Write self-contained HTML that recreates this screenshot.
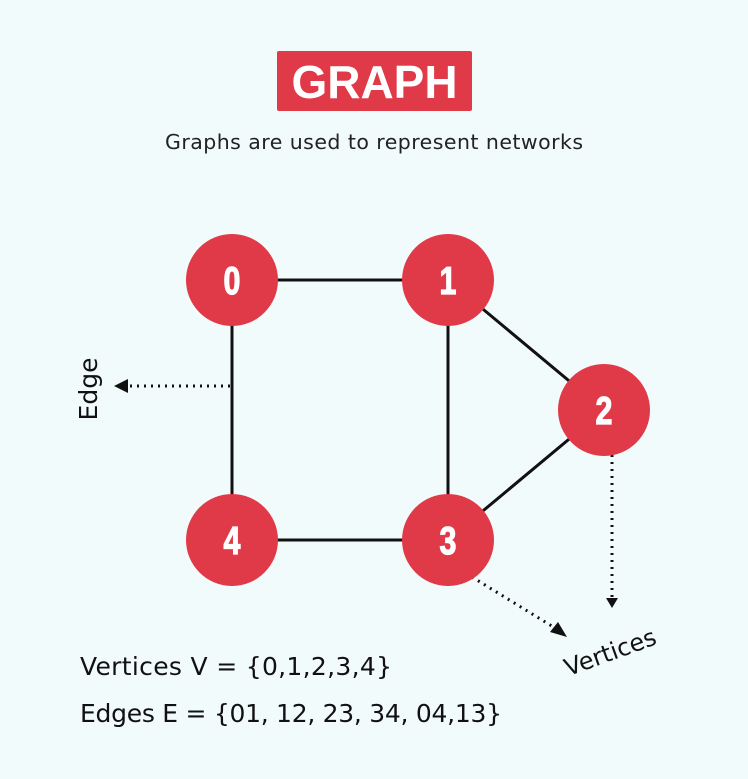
<!DOCTYPE html>
<html><head><style>
body{margin:0;background:#f2fbfc;}
svg{display:block}
</style></head><body>
<svg width="748" height="779" viewBox="0 0 748 779" xmlns="http://www.w3.org/2000/svg">
<rect width="748" height="779" fill="#f2fbfc"/>
<rect x="277" y="51" width="195" height="60" rx="2" fill="#e03a48"/>
<text x="374.5" y="98" text-anchor="middle" font-family="Liberation Sans, sans-serif" font-weight="bold" font-size="46" fill="#fff">GRAPH</text>
<text x="374" y="149" text-anchor="middle" font-family="DejaVu Sans, sans-serif" font-size="20.5" fill="#222" textLength="418">Graphs are used to represent networks</text>
<g stroke="#111" stroke-width="3">
<line x1="232" y1="280" x2="448" y2="280"/>
<line x1="232" y1="280" x2="232" y2="540"/>
<line x1="232" y1="540" x2="448" y2="540"/>
<line x1="448" y1="280" x2="448" y2="540"/>
<line x1="448" y1="280" x2="604" y2="410"/>
<line x1="448" y1="540" x2="604" y2="410"/>
</g>
<g stroke="#111" stroke-width="3" stroke-dasharray="2 5" fill="none">
<line x1="230" y1="386" x2="128" y2="386"/>
<line x1="612" y1="455" x2="612" y2="598"/>
<line x1="472" y1="577" x2="555" y2="628"/>
</g>
<g fill="#111">
<polygon points="114,386 128,379 128,393"/>
<polygon points="606,598 618,598 612,608"/>
<polygon points="567,637 550,632 558,622"/>
</g>
<g fill="#e03a48">
<circle cx="232" cy="280" r="46"/><circle cx="448" cy="280" r="46"/>
<circle cx="604" cy="410" r="46"/><circle cx="448" cy="540" r="46"/>
<circle cx="232" cy="540" r="46"/>
</g>
<g font-family="Liberation Sans, sans-serif" font-weight="bold" font-size="32" fill="#fff" text-anchor="middle" stroke="#fff" stroke-width="1">
<text transform="translate(232,294) scale(0.95,1.22)">0</text>
<text transform="translate(448,294) scale(0.95,1.22)">1</text>
<text transform="translate(604,424) scale(0.95,1.22)">2</text>
<text transform="translate(448,554) scale(0.95,1.22)">3</text>
<text transform="translate(232,554) scale(0.95,1.22)">4</text>
</g>
<text transform="translate(97,389) rotate(-90)" text-anchor="middle" font-family="DejaVu Sans, sans-serif" font-size="25" fill="#111">Edge</text>
<text transform="translate(613,660) rotate(-20)" text-anchor="middle" font-family="DejaVu Sans, sans-serif" font-size="24" fill="#111">Vertices</text>
<text x="80" y="675" font-family="DejaVu Sans, sans-serif" font-size="25" fill="#111" textLength="312">Vertices V = {0,1,2,3,4}</text>
<text x="80" y="722" font-family="DejaVu Sans, sans-serif" font-size="25" fill="#111" textLength="422">Edges E = {01, 12, 23, 34, 04,13}</text>
</svg>
</body></html>
